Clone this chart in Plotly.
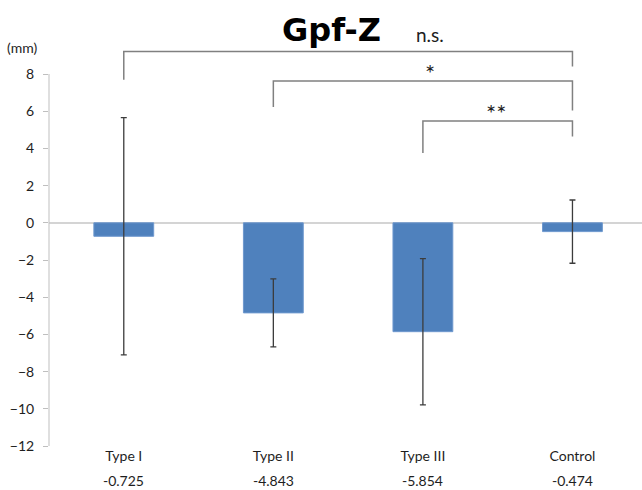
import plotly.graph_objects as go

categories = ["Type I", "Type II", "Type III", "Control"]
means = [-0.725, -4.843, -5.854, -0.474]
sds = [6.38, 1.83, 3.93, 1.70]
y_ticks = [-12, -10, -8, -6, -4, -2, 0, 2, 4, 6, 8]

# significance brackets: (left category, right category, top, left foot, right foot, label)
bracket_left = ["Type I", "Type II", "Type III"]
bracket_right = ["Control", "Control", "Control"]
bracket_top = [9.21, 7.63, 5.47]
bracket_left_foot = [7.69, 6.22, 3.75]
bracket_right_foot = [8.40, 6.04, 4.64]
bracket_labels = ["n.s.", "*", "**"]

title_text = "Gpf-Z"
unit_text = "(mm)"

LABEL_FONT = "Lato, 'Open Sans', sans-serif"
TEXT = "#1e1e1e"

fig = go.Figure()
fig.add_trace(go.Bar(
    x=categories, y=means, width=0.40,
    marker=dict(color="#4F81BD", line=dict(color="#6E98CE", width=1)),
    error_y=dict(type="data", array=sds, visible=True,
                 color="#3c3c3c", thickness=1.3, width=3),
    showlegend=False,
))

shapes = []
# y axis line only from -12 to 8
shapes.append(dict(type="line", xref="paper", yref="y", x0=0, x1=0,
                   y0=y_ticks[0], y1=y_ticks[-1],
                   line=dict(color="#BFBFBF", width=1)))
for l, r, t, lf, rf in zip(bracket_left, bracket_right, bracket_top,
                           bracket_left_foot, bracket_right_foot):
    shapes.append(dict(type="path", xref="x", yref="y",
                       path=f"M {categories.index(l)},{lf} L {categories.index(l)},{t} "
                            f"L {categories.index(r)},{t} L {categories.index(r)},{rf}",
                       line=dict(color="#808080", width=1.5)))

annotations = []
# title
annotations.append(dict(text=f"<b>{title_text}</b>", xref="paper", yref="paper",
                        x=(331 - 49) / 593, y=1, yanchor="bottom", yshift=-7,
                        showarrow=False,
                        font=dict(family="DejaVu Sans", size=32, color="#000000")))
# unit
annotations.append(dict(text=unit_text, xref="paper", yref="paper",
                        x=0, y=1, xanchor="center", yanchor="middle",
                        xshift=-27, yshift=-3, showarrow=False,
                        font=dict(family=LABEL_FONT, size=14, color=TEXT)))
# bracket labels
annotations.append(dict(text=bracket_labels[0], xref="x", yref="paper",
                        x=2.047, y=1, yanchor="middle", yshift=10,
                        showarrow=False,
                        font=dict(family=LABEL_FONT, size=19, color=TEXT)))
annotations.append(dict(text=bracket_labels[1], xref="x", yref="y",
                        x=2.05, y=8.28, yanchor="middle", yshift=-4,
                        showarrow=False,
                        font=dict(family=LABEL_FONT, size=24, color=TEXT)))
annotations.append(dict(text=bracket_labels[2], xref="x", yref="y",
                        x=2.49, y=6.13, yanchor="middle", yshift=-4,
                        showarrow=False,
                        font=dict(family=LABEL_FONT, size=24, color=TEXT)))
# value row under categories
for c, m in zip(categories, means):
    annotations.append(dict(text=f"{m:.3f}", xref="x", yref="paper",
                            x=c, y=0, yanchor="middle", yshift=-34,
                            showarrow=False,
                            font=dict(family=LABEL_FONT, size=14, color=TEXT)))

fig.update_layout(
    width=642, height=490,
    margin=dict(l=49, r=0, t=44, b=44),
    paper_bgcolor="white", plot_bgcolor="white",
    shapes=shapes, annotations=annotations,
    bargap=0.6,
    xaxis=dict(type="category", range=[-0.5, 3.465], showgrid=False,
               showline=False, zeroline=False, ticks="",
               tickfont=dict(family=LABEL_FONT, size=14, color=TEXT)),
    yaxis=dict(range=[-12, 9.613], tickvals=y_ticks, showgrid=False,
               showline=False, zeroline=True, zerolinecolor="#D4D4D4",
               zerolinewidth=2, ticks="outside", ticklen=5,
               tickcolor="#BFBFBF", ticklabelstandoff=6,
               tickfont=dict(family=LABEL_FONT, size=14, color=TEXT)),
)

fig.write_html("out.html", config={"displayModeBar": False},
               post_script="document.body.style.margin='0';document.body.style.padding='0';")
